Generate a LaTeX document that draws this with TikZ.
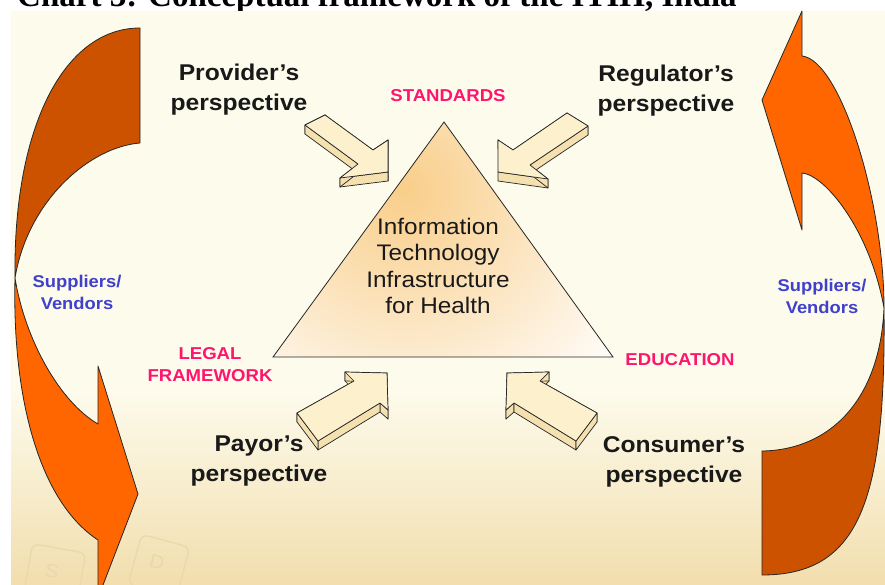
\documentclass[tikz,border=0pt]{standalone}
\usepackage{fontspec}
\setmainfont{Liberation Sans}
\newfontfamily\arialx[FakeStretch=1.08]{Liberation Sans}
\newfontfamily\timesb{Liberation Serif}
\usetikzlibrary{calc}
\definecolor{panelbg}{RGB}{253,251,236}
\definecolor{paneltan}{RGB}{242,222,174}
\definecolor{keyc}{RGB}{234,216,172}
\definecolor{darkor}{RGB}{204,82,0}
\definecolor{brightor}{RGB}{255,102,0}
\definecolor{pinklab}{RGB}{255,20,110}
\definecolor{bluelab}{RGB}{64,64,204}
\definecolor{arrfront}{RGB}{253,241,205}
\definecolor{arrside}{RGB}{245,224,176}
\definecolor{trior}{RGB}{249,206,138}
\definecolor{txtc}{RGB}{25,25,25}
\tikzset{
  bigdark/.style={fill=darkor,draw=black!85,line width=0.8pt,line join=round},
  bigbright/.style={fill=brightor,draw=black!85,line width=0.8pt,line join=round},
  blockside/.style={fill=arrside,draw=black!85,line width=0.7pt,line join=round},
  blockfront/.style={fill=arrfront,draw=black!85,line width=0.7pt,line join=round},
  persp/.style={font=\arialx\bfseries\fontsize{22.8}{30}\selectfont,align=center,text=txtc,inner sep=0pt},
  pinkl/.style={font=\arialx\bfseries\fontsize{17.2}{22}\selectfont,text=pinklab,inner sep=0pt},
  bluel/.style={font=\arialx\bfseries\fontsize{17}{22}\selectfont,text=bluelab,align=center,inner sep=0pt},
  tritext/.style={font=\arialx\fontsize{22.5}{26.5}\selectfont,align=center,text=txtc,inner sep=0pt},
  keystyle/.style={keyc,line width=1.2pt,rounded corners=7pt},
}
\newcommand\drawblock[1]{%
  \foreach \i/\j in {1/2,2/3,3/4,4/5,5/6,6/7,7/1}{%
    \filldraw[blockside] (#1\i) -- (#1\j) -- ($(#1\j)+(0,9)$) -- ($(#1\i)+(0,9)$) -- cycle;}
  \filldraw[blockfront] (#11)--(#12)--(#13)--(#14)--(#15)--(#16)--(#17)--cycle;}
\begin{document}
\begin{tikzpicture}[x=1pt,y=-1pt]
\useasboundingbox (0,0) rectangle (885,585);
\clip (0,0) rectangle (885,585);
\fill[white] (0,0) rectangle (885,585);
% title (cut off at top, as in the source)
\node[anchor=base west,font=\timesb\bfseries\fontsize{33}{36}\selectfont,inner sep=0pt] (title) at (17,7) {Chart 3: Conceptual framework of the ITIH, India};
% panel
\fill[panelbg] (11,11) rectangle (885,585);
\shade[top color=panelbg,bottom color=paneltan] (11,390) rectangle (885,585);
% faint keyboard keys
\draw[keystyle,rotate around={-15:(160,562)}] (135,540) rectangle (185,592);
\draw[keystyle,rotate around={-10:(55,572)}] (28,548) rectangle (82,600);
\node[text=keyc,font=\arialx\fontsize{19}{19}\selectfont,rotate=-15] (keyd) at (157,562) {D};
\node[text=keyc,font=\arialx\fontsize{19}{19}\selectfont,rotate=-10] (keys) at (52,571) {S};
% left big curved arrow
\filldraw[bigdark] (140,28) .. controls (65,28) and (13,125) .. (15,278)
   .. controls (28,200) and (90,147) .. (140,143) -- cycle;
\filldraw[bigbright] (15,278) .. controls (25,340) and (60,402) .. (98,424)
   -- (98,366) -- (138,494) -- (98,598) -- (98,540)
   .. controls (40,502) and (12,400) .. (15,278) -- cycle;
% right big curved arrow
\filldraw[bigbright] (884,308) .. controls (884,200) and (840,60) .. (802,56)
   -- (802,11) -- (762,100) -- (802,230) -- (802,173)
   .. controls (825,175) and (870,230) .. (884,308) -- cycle;
\filldraw[bigdark] (884,308) .. controls (886,500) and (860,575) .. (762,575)
   -- (762,451) .. controls (830,450) and (880,400) .. (884,308) -- cycle;
% triangle
\coordinate (apex) at (444,122);
\coordinate (bl) at (273,357);
\coordinate (br) at (613,357);
\begin{scope}
\clip (apex)--(bl)--(br)--cycle;
\fill[white] (250,100) rectangle (640,370);
\shade[inner color=trior,outer color=white] (405,190) circle (280);
\end{scope}
\draw[black!85,line width=0.8pt,line join=miter] (apex)--(bl)--(br)--cycle;
\node[tritext] (ith) at (438,266) {Information\\Technology\\Infrastructure\\for Health};
% small block arrows
\path (305,125) coordinate (pa1) (325,115) coordinate (pa2) (373,150) coordinate (pa3)
      (388,140) coordinate (pa4) (388,172) coordinate (pa5) (340,178) coordinate (pa6)
      (358,164) coordinate (pa7);
\drawblock{pa}
\path (588,126) coordinate (pr1) (567,113) coordinate (pr2) (513,150) coordinate (pr3)
      (498,140) coordinate (pr4) (498,172) coordinate (pr5) (548,179) coordinate (pr6)
      (530,165) coordinate (pr7);
\drawblock{pr}
\path (297,413) coordinate (py1) (354,381) coordinate (py2) (345,372) coordinate (py3)
      (387,373) coordinate (py4) (388,410) coordinate (py5) (380,403) coordinate (py6)
      (318,441) coordinate (py7);
\drawblock{py}
\path (597,413) coordinate (pc1) (540,381) coordinate (pc2) (549,372) coordinate (pc3)
      (507,373) coordinate (pc4) (506,410) coordinate (pc5) (514,403) coordinate (pc6)
      (576,441) coordinate (pc7);
\drawblock{pc}
% labels
\node[persp] (prov) at (239,90) {Provider’s\\perspective};
\node[persp] (regu) at (666,90.5) {Regulator’s\\perspective};
\node[persp] (payo) at (259,461) {Payor’s\\perspective};
\node[persp] (cons) at (674,462) {Consumer’s\\perspective};
\node[pinkl] (stand) at (448,96) {STANDARDS};
\node[pinkl,align=center] (legal) at (210,365) {LEGAL\\FRAMEWORK};
\node[pinkl] (educ) at (680,360) {EDUCATION};
\node[bluel] (suppl) at (77,292) {Suppliers/\\Vendors};
\node[bluel] (suppr) at (822,296) {Suppliers/\\Vendors};
\end{tikzpicture}
\end{document}
